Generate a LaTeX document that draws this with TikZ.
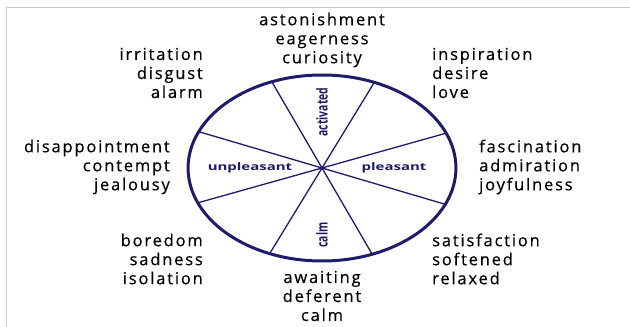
\documentclass[tikz,border=0pt]{standalone}
\usepackage{fontspec}
\newfontfamily\emotionfont[LetterSpace=11, FakeBold=0.4]{Open Sans}
\newfontfamily\axisfont{Open Sans}
\definecolor{wheelnavy}{HTML}{1F1B6B}
\definecolor{framegray}{HTML}{C8C8C8}

\begin{document}
\begin{tikzpicture}[
  x=1pt, y=1pt,
  emotion/.style={
    align=center,
    inner sep=0pt,
    font=\emotionfont\fontsize{16.5}{19}\selectfont,
    text=black
  },
  emotionleft/.style={
    emotion,
    align=right,
    anchor=east
  },
  emotionright/.style={
    emotion,
    align=left,
    anchor=west
  },
  axis/.style={
    inner sep=0pt,
    font=\axisfont\bfseries\fontsize{10.4}{12}\selectfont,
    text=wheelnavy
  },
  rim/.style={
    draw=wheelnavy,
    line width=3pt,
    circle,
    minimum size=186pt,
    inner sep=0pt,
    outer sep=0pt
  },
  spoke/.style={draw=wheelnavy, line width=1.3pt}
]
\useasboundingbox (0,0) rectangle (630,327);

% Frame of the figure.
\draw[framegray, line width=0.8pt] (6,0) -- (6,320) -- (630,320);

% The wheel, drawn round and then stretched.
\begin{scope}[shift={(322,159)}, xscale=1.44, transform shape]
  \node[rim] (wheel) at (0,0) {};
  \foreach \a/\b in {22.5/202.5, 67.5/247.5, 112.5/292.5, 157.5/337.5}
    \draw[spoke] (wheel.\a) -- (wheel.\b);
  \node[axis, rotate=90] (activated) at (0,56) {activated};
  \node[axis, rotate=90] (calmaxis) at (0,-67) {calm};
  \node[axis] (unpleasant) at (-50,0) {unpleasant};
  \node[axis] (pleasant) at (50,0) {pleasant};
\end{scope}

% Emotions round the wheel.
\node[emotion] (top) at (322,287) {astonishment\\eagerness\\curiosity};
\node[emotionleft] (upleft) at (203,254) {irritation\\disgust\\alarm};
\node[emotionright] (upright) at (432,254) {inspiration\\desire\\love};
\node[emotionleft] (midleft) at (170,160) {disappointment\\contempt\\jealousy};
\node[emotionright] (midright) at (479,160) {fascination\\admiration\\joyfulness};
\node[emotionleft] (lowleft) at (203,68) {boredom\\sadness\\isolation};
\node[emotionright] (lowright) at (432,68) {satisfaction\\softened\\relaxed};
\node[emotion] (bottom) at (322,31) {awaiting\\deferent\\calm};

\end{tikzpicture}
\end{document}
